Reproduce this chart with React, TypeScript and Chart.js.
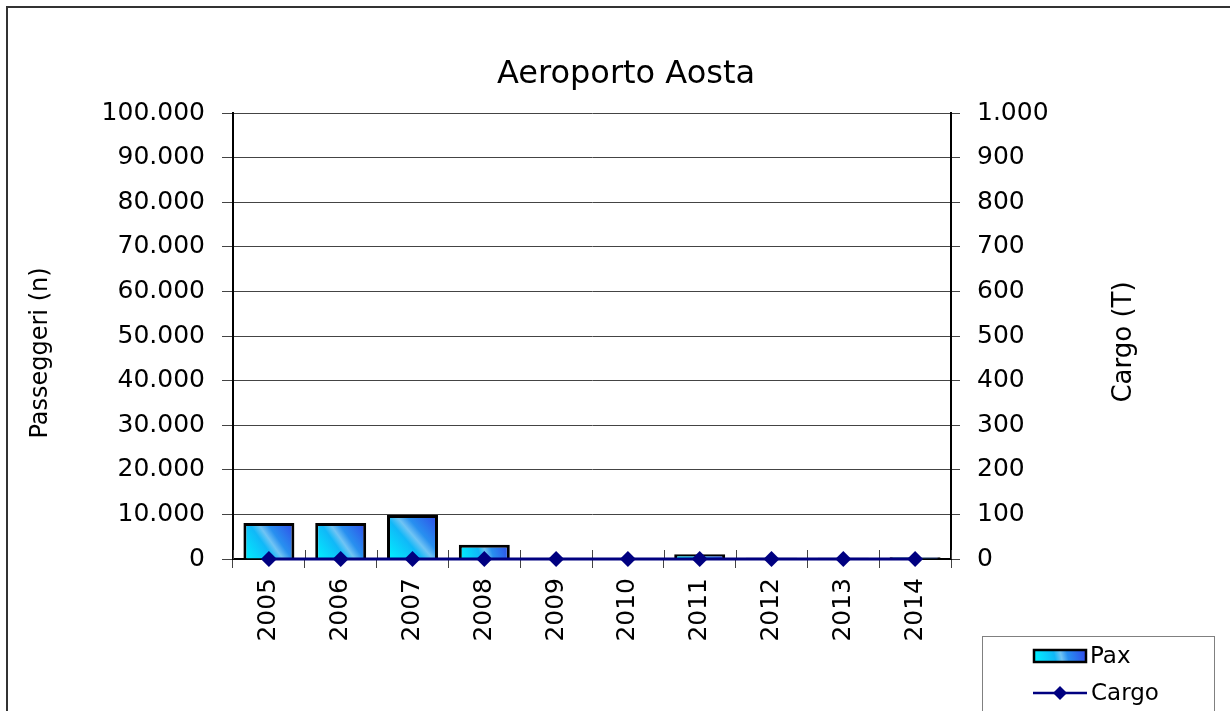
import React, { useEffect, useRef } from 'react';
import { Chart, registerables } from 'chart.js';

Chart.register(...registerables);

const years = ['2005', '2006', '2007', '2008', '2009', '2010', '2011', '2012', '2013', '2014'];
const paxValues = [8050, 8050, 9850, 3200, 0, 0, 1050, 300, 300, 400];
const cargoValues = [0, 0, 0, 0, 0, 0, 0, 0, 0, 0];
const chartTitle = 'Aeroporto Aosta';
const leftAxisTitle = 'Passeggeri (n)';
const rightAxisTitle = 'Cargo (T)';
const legendLabels = ['Pax', 'Cargo'];

const FONT = "'DejaVu Sans', Verdana, sans-serif";
const NAVY = '#000080';
const BAR_PCT = 0.71;

const fmt = (v: number | string) => String(v).replace(/\B(?=(\d{3})+(?!\d))/g, '.');

function barGradient(ctx: CanvasRenderingContext2D, x0: number, y0: number, x1: number, y1: number) {
  const g = ctx.createLinearGradient(x0, y0, x1, y1);
  g.addColorStop(0, '#00f4ff');
  g.addColorStop(0.4, '#10b8f8');
  g.addColorStop(0.52, '#70c4f4');
  g.addColorStop(0.64, '#2890f0');
  g.addColorStop(1, '#3048e8');
  return g;
}

const decorPlugin = {
  id: 'decor',
  beforeDatasetsDraw(chart: any) {
    const { ctx, chartArea } = chart;
    const n = years.length;
    const w = (chartArea.right - chartArea.left) / n;
    ctx.save();
    ctx.strokeStyle = '#444';
    ctx.lineWidth = 1;
    for (let i = 0; i <= n; i++) {
      const x = Math.round(chartArea.left + i * w) + 0.5;
      ctx.beginPath();
      ctx.moveTo(x, chartArea.bottom - 9);
      ctx.lineTo(x, chartArea.bottom);
      ctx.stroke();
    }
    ctx.restore();
  },
  afterDraw(chart: any) {
    const { ctx } = chart;
    ctx.save();
    // outer border
    ctx.strokeStyle = '#333';
    ctx.lineWidth = 2;
    ctx.beginPath();
    ctx.moveTo(7, 720);
    ctx.lineTo(7, 7);
    ctx.lineTo(1240, 7);
    ctx.stroke();

    ctx.fillStyle = '#000';
    ctx.font = `32px ${FONT}`;
    ctx.textAlign = 'center';
    ctx.textBaseline = 'middle';
    ctx.fillText(chartTitle, 626, 75);

    ctx.font = `24px ${FONT}`;
    ctx.save();
    ctx.translate(41, 353);
    ctx.rotate(-Math.PI / 2);
    ctx.fillText(leftAxisTitle, 0, 0);
    ctx.restore();
    ctx.font = `26px ${FONT}`;
    ctx.save();
    ctx.translate(1124, 342);
    ctx.rotate(-Math.PI / 2);
    ctx.fillText(rightAxisTitle, 0, 0);
    ctx.restore();

    // legend
    ctx.strokeStyle = '#808080';
    ctx.lineWidth = 1;
    ctx.strokeRect(982.5, 636.5, 232, 100);
    ctx.fillStyle = barGradient(ctx, 1034, 662, 1086, 650);
    ctx.fillRect(1034, 650, 52, 12);
    ctx.strokeStyle = '#000';
    ctx.lineWidth = 2.5;
    ctx.strokeRect(1034, 650, 52, 12);
    ctx.strokeStyle = NAVY;
    ctx.lineWidth = 2.5;
    ctx.beginPath();
    ctx.moveTo(1033, 693);
    ctx.lineTo(1087, 693);
    ctx.stroke();
    ctx.fillStyle = NAVY;
    ctx.beginPath();
    ctx.moveTo(1060, 686);
    ctx.lineTo(1067, 693);
    ctx.lineTo(1060, 700);
    ctx.lineTo(1053, 693);
    ctx.closePath();
    ctx.fill();
    ctx.fillStyle = '#000';
    ctx.font = `23px ${FONT}`;
    ctx.textAlign = 'left';
    ctx.textBaseline = 'middle';
    ctx.fillText(legendLabels[0], 1090, 657);
    ctx.fillText(legendLabels[1], 1091, 694);
    ctx.restore();
  },
};

export default function App() {
  const ref = useRef<HTMLCanvasElement>(null);
  useEffect(() => {
    if (!ref.current) return;
    const chart = new Chart(ref.current, {
      type: 'bar',
      data: {
        labels: years,
        datasets: [
          {
            type: 'line',
            label: legendLabels[1],
            data: cargoValues,
            yAxisID: 'y1',
            borderColor: NAVY,
            backgroundColor: NAVY,
            borderWidth: 3,
            pointStyle: 'rectRot',
            pointRadius: 8,
            pointHoverRadius: 8,
            pointBackgroundColor: NAVY,
            pointBorderColor: NAVY,
            pointBorderWidth: 0,
            clip: false,
            order: 1,
          } as any,
          {
            type: 'bar',
            label: legendLabels[0],
            data: paxValues,
            yAxisID: 'y',
            borderColor: '#000',
            borderWidth: 3,
            barPercentage: BAR_PCT,
            categoryPercentage: 1,
            order: 2,
            backgroundColor: (c: any) => {
              const chart = c.chart;
              const area = chart && chart.chartArea;
              const xs = chart && chart.scales && chart.scales.x;
              const ys = chart && chart.scales && chart.scales.y;
              if (!area || !xs || !ys || c.dataIndex === undefined) return '#20a0f0';
              const x = xs.getPixelForValue(c.dataIndex);
              const w = ((area.right - area.left) / years.length) * BAR_PCT;
              const top = ys.getPixelForValue(c.raw ?? 0);
              const base = ys.getPixelForValue(0);
              if (![x, w, top, base].every(Number.isFinite)) return '#20a0f0';
              return barGradient(chart.ctx, x - w / 2, base, x + w / 2, Math.min(top, base - 1));
            },
          } as any,
        ],
      },
      options: {
        responsive: true,
        maintainAspectRatio: false,
        animation: false,
        layout: { padding: { top: 113, left: 0, right: 0, bottom: 0 } },
        plugins: {
          legend: { display: false },
          title: { display: false },
          tooltip: { enabled: false },
        },
        scales: {
          x: {
            offset: true,
            grid: { display: true, offset: true, drawOnChartArea: false, tickLength: 9, color: '#444' },
            border: { display: true, color: '#000', width: 2 },
            ticks: {
              autoSkip: false,
              minRotation: 90,
              maxRotation: 90,
              padding: 10,
              color: '#000',
              font: { family: FONT, size: 25 },
            },
            afterFit: (s: any) => {
              s.height = 152;
            },
          },
          y: {
            position: 'left',
            min: 0,
            max: 100000,
            grid: { color: '#444', lineWidth: 1, tickLength: 11 },
            border: { display: true, color: '#000', width: 2 },
            ticks: {
              stepSize: 10000,
              padding: 17,
              color: '#000',
              font: { family: FONT, size: 25 },
              callback: (v: any) => fmt(v),
            },
            afterFit: (s: any) => {
              s.width = 233;
            },
          },
          y1: {
            position: 'right',
            min: 0,
            max: 1000,
            grid: { drawOnChartArea: false, color: '#444', tickLength: 9 },
            border: { display: true, color: '#000', width: 2 },
            ticks: {
              stepSize: 100,
              padding: 17,
              color: '#000',
              font: { family: FONT, size: 25 },
              callback: (v: any) => fmt(v),
            },
            afterFit: (s: any) => {
              s.width = 279;
            },
          },
        },
      },
      plugins: [decorPlugin],
    });
    return () => chart.destroy();
  }, []);
  return (
    <div style={{ position: 'absolute', left: 0, top: 0, width: 1230, height: 711, background: '#fff' }}>
      <canvas ref={ref} />
    </div>
  );
}
